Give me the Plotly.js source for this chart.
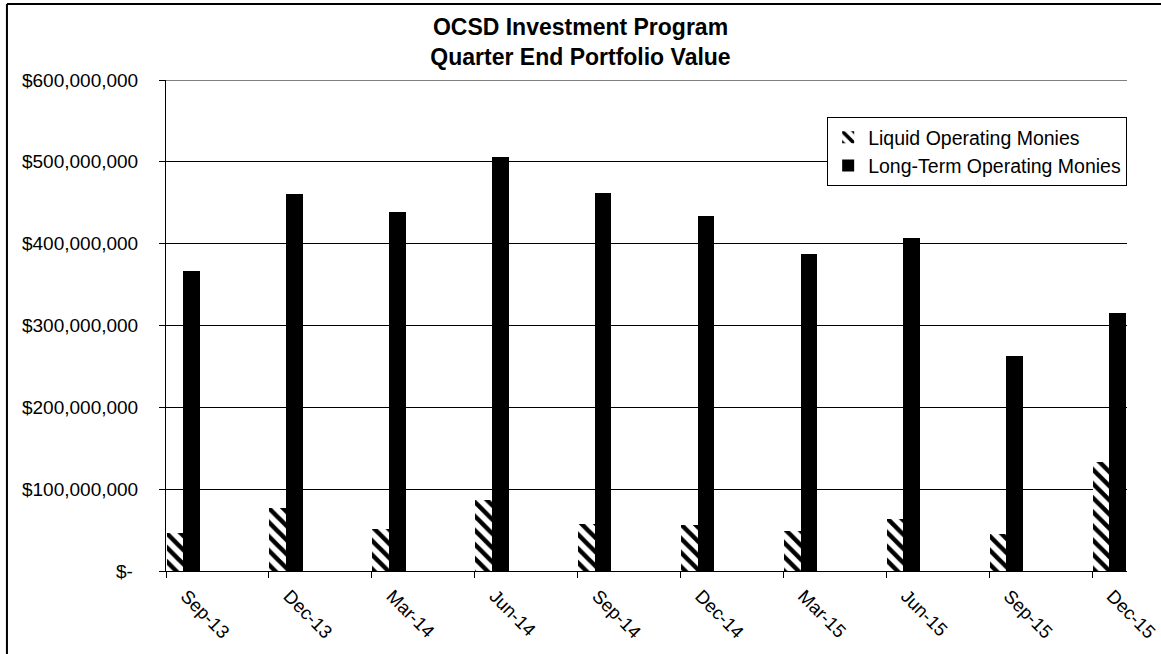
<!DOCTYPE html>
<html>
<head>
<meta charset="utf-8">
<script src="https://cdn.plot.ly/plotly-3.0.1.min.js"></script>
<style>
html,body{margin:0;padding:0;background:#fff;}
#chart{width:1161px;height:654px;}
</style>
</head>
<body>
<div id="chart"></div>
<script>
// Data
const categories = ["Sep-13","Dec-13","Mar-14","Jun-14","Sep-14","Dec-14","Mar-15","Jun-15","Sep-15","Dec-15"];
const liquidOperating = [46e6, 77e6, 51e6, 87e6, 57e6, 56e6, 49e6, 63e6, 45e6, 133e6];
const longTermOperating = [367e6, 461e6, 439e6, 506e6, 462e6, 434e6, 387e6, 407e6, 263e6, 315e6];
const yTickValues = [0, 100e6, 200e6, 300e6, 400e6, 500e6, 600e6];
const yTickLabels = ["$-\u00a0", "$100,000,000", "$200,000,000", "$300,000,000", "$400,000,000", "$500,000,000", "$600,000,000"];
const seriesNames = ["Liquid Operating Monies", "Long-Term Operating Monies"];
const yMax = 600e6;

const FONT = '"Liberation Sans", Arial, Helvetica, sans-serif';

const traces = [
  {
    type: 'bar',
    name: seriesNames[0],
    x: categories,
    y: liquidOperating,
    width: 0.162,
    offset: 0.005,
    marker: {
      color: '#ffffff',
      line: {width: 0},
      pattern: {shape: '\\', fgcolor: '#000000', bgcolor: '#ffffff', size: 10, solidity: 0.45}
    },
    hoverinfo: 'x+y'
  },
  {
    type: 'bar',
    name: seriesNames[1],
    x: categories,
    y: longTermOperating,
    width: 0.162,
    offset: 0.167,
    marker: {color: '#000000', line: {width: 0}},
    hoverinfo: 'x+y'
  }
];

const layout = {
  width: 1161,
  height: 654,
  paper_bgcolor: '#ffffff',
  plot_bgcolor: '#ffffff',
  margin: {l: 166, r: 34, t: 80, b: 83, pad: 0},
  font: {family: FONT, color: '#000000', size: 18},
  title: {
    text: '<b>OCSD Investment Program<br>Quarter End Portfolio Value</b>',
    font: {family: FONT, size: 23, color: '#000000'},
    x: 0.5, xref: 'container', xanchor: 'center',
    y: 0.946, yref: 'container', yanchor: 'middle'
  },
  showlegend: true,
  legend: {
    x: 0.688, xanchor: 'left',
    y: 0.9246, yanchor: 'top',
    bgcolor: '#ffffff',
    bordercolor: '#000000',
    borderwidth: 1,
    font: {family: FONT, size: 19.5, color: '#000000'},
    itemwidth: 30,
    traceorder: 'normal'
  },
  xaxis: {
    type: 'category',
    range: [0, 9.34],
    tickangle: 45,
    ticks: 'outside',
    ticklen: 6,
    tickcolor: '#000000',
    tickwidth: 1,
    ticklabelshift: 20,
    showline: true,
    linecolor: '#000000',
    linewidth: 1,
    showgrid: false,
    zeroline: false,
    tickfont: {family: FONT, size: 18.5, color: '#000000'},
    fixedrange: true
  },
  yaxis: {
    range: [0, yMax],
    tickmode: 'array',
    tickvals: yTickValues,
    ticktext: yTickLabels,
    ticks: 'outside',
    ticklen: 6,
    tickcolor: '#000000',
    tickwidth: 1,
    ticklabelstandoff: 17,
    showline: true,
    linecolor: '#000000',
    linewidth: 1,
    showgrid: true,
    gridcolor: '#000000',
    gridwidth: 1,
    zeroline: false,
    tickfont: {family: FONT, size: 19, color: '#000000'},
    fixedrange: true
  },
  bargap: 0,
  shapes: [
    // top gridline at the axis maximum
    {type: 'line', xref: 'paper', yref: 'y', x0: 0, x1: 1, y0: yMax, y1: yMax, line: {color: '#000000', width: 1}},
    // outer chart frame (left and top edges)
    {type: 'line', xref: 'paper', yref: 'paper', x0: -0.1655, x1: -0.1655, y0: 1.1548, y1: -0.17, line: {color: '#000000', width: 2}},
    {type: 'line', xref: 'paper', yref: 'paper', x0: -0.1655, x1: 1.036, y0: 1.1548, y1: 1.1548, line: {color: '#000000', width: 2}}
  ]
};

Plotly.newPlot('chart', traces, layout, {displayModeBar: false, staticPlot: true});
</script>
</body>
</html>
